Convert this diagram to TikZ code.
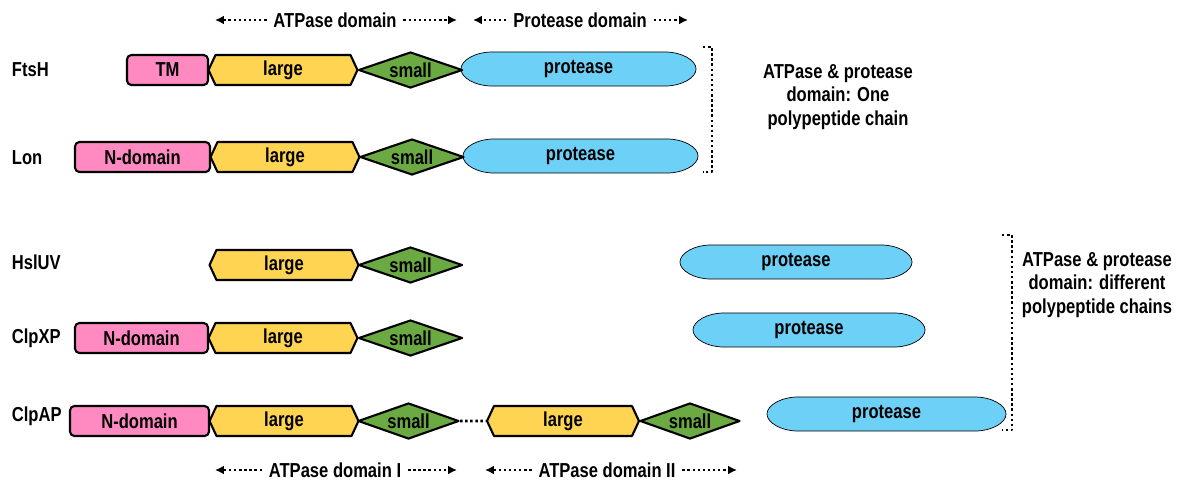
\documentclass[tikz,border=0pt]{standalone}
\usepackage{fontspec}
\setmainfont{Liberation Sans}[FakeStretch=0.82]
\usetikzlibrary{shapes.geometric,shapes.symbols,arrows.meta,backgrounds}
\definecolor{ntpink}{HTML}{FF8AC2}
\definecolor{lgyellow}{HTML}{FFD452}
\definecolor{smgreen}{HTML}{6BAA42}
\definecolor{prblue}{HTML}{6DD0F6}
\begin{document}
\begin{tikzpicture}[x=0.02cm,y=-0.02cm,line join=round,line width=1.2pt,
	font=\fontsize{11.5}{13.6}\selectfont\bfseries]
	\tikzset{
		ntbox/.style={draw,fill=ntpink,rounded corners=2.5pt,minimum height=0.6cm,inner sep=0pt},
		lgbox/.style={draw,fill=lgyellow,signal,signal to=west and east,signal pointer angle=130,
			minimum height=0.6cm,minimum width=2.98cm,inner sep=0pt},
		smbox/.style={draw,fill=smgreen,diamond,aspect=2.8,minimum width=2.08cm,minimum height=0.72cm,inner sep=0pt},
		prbox/.style={minimum height=0.64cm,inner sep=0pt},
		dimline/.style={line width=1.5pt,dash pattern=on 1.4pt off 1.5pt,-{Latex[length=5pt,width=5pt]}},
		bracket/.style={line width=1.5pt,dash pattern=on 1.4pt off 1.5pt}
	}
	\useasboundingbox (0,0) rectangle (1182,484);
	% names of the proteases
	\node[anchor=west] (ftsh) at (5,70) {FtsH};
	\node[anchor=west] (lon) at (5,158) {Lon};
	\node[anchor=west] (hsluv) at (5,262) {HslUV};
	\node[anchor=west] (clpxp) at (5,338) {ClpXP};
	\node[anchor=west] (clpap) at (5,416) {ClpAP};
	% FtsH
	\node[ntbox,minimum width=1.62cm] (tm1) at (167.5,70) {TM};
	\node[lgbox] (lg1) at (283,70) {large};
	\node[smbox] (sm1) at (410.5,70) {small};
	\node[prbox,minimum width=4.66cm] (pr1) at (578.5,69) {protease};
	% Lon
	\node[ntbox,minimum width=2.7cm] (nd2) at (142.5,157) {N-domain};
	\node[lgbox] (lg2) at (285,157) {large};
	\node[smbox] (sm2) at (412,157) {small};
	\node[prbox,minimum width=4.66cm] (pr2) at (580.5,156) {protease};
	% HslUV
	\node[lgbox] (lg3) at (284,265) {large};
	\node[smbox] (sm3) at (410.5,265) {small};
	\node[prbox,minimum width=4.6cm] (pr3) at (796,262) {protease};
	% ClpXP
	\node[ntbox,minimum width=2.66cm] (nd4) at (141.5,338) {N-domain};
	\node[lgbox] (lg4) at (283,338) {large};
	\node[smbox] (sm4) at (410.5,338) {small};
	\node[prbox,minimum width=4.6cm] (pr4) at (809,330) {protease};
	% ClpAP
	\node[ntbox,minimum width=2.78cm] (nd5) at (139.5,421) {N-domain};
	\node[lgbox] (lg5) at (284,421) {large};
	\node[smbox,minimum width=2.02cm] (sm5) at (408.5,421) {small};
	\node[lgbox,minimum width=3.04cm] (lg5b) at (563,421) {large};
	\node[smbox,minimum width=2.0cm] (sm5b) at (690,421) {small};
	\node[prbox,minimum width=4.74cm] (pr5) at (886.5,414) {protease};
	\draw[bracket] (sm5) -- (lg5b);
	% protease outlines, flat sides with elliptic ends
	\begin{scope}[on background layer]
		\foreach \n in {pr1,pr2,pr3,pr4,pr5}
			\draw[fill=prblue] ([xshift=18pt]\n.north west) -- ([xshift=-18pt]\n.north east)
				.. controls +(9.9pt,0) and +(0,5pt) .. (\n.east)
				.. controls +(0,-5pt) and +(9.9pt,0) .. ([xshift=-18pt]\n.south east)
				-- ([xshift=18pt]\n.south west)
				.. controls +(-9.9pt,0) and +(0,-5pt) .. (\n.west)
				.. controls +(0,5pt) and +(-9.9pt,0) .. ([xshift=18pt]\n.north west) -- cycle;
	\end{scope}
	% domain ranges on top
	\node (atp) at (335,20) {ATPase domain};
	\coordinate (atpl) at (215,20); \coordinate (atpr) at (457,20);
	\draw[dimline] (atp.west) -- (atpl);
	\draw[dimline] (atp.east) -- (atpr);
	\node (prd) at (580,20) {Protease domain};
	\coordinate (prdl) at (473,20); \coordinate (prdr) at (688,20);
	\draw[dimline] (prd.west) -- (prdl);
	\draw[dimline] (prd.east) -- (prdr);
	% domain ranges below
	\node (atpi) at (335,470) {ATPase domain I};
	\coordinate (atpil) at (215,470); \coordinate (atpir) at (457,470);
	\draw[dimline] (atpi.west) -- (atpil);
	\draw[dimline] (atpi.east) -- (atpir);
	\node (atpii) at (607,470) {ATPase domain II};
	\coordinate (atpiil) at (485,470); \coordinate (atpiir) at (737,470);
	\draw[dimline] (atpii.west) -- (atpiil);
	\draw[dimline] (atpii.east) -- (atpiir);
	% brackets
	\coordinate (b1a) at (703,47); \coordinate (b1b) at (712,47);
	\coordinate (b1c) at (712,172); \coordinate (b1d) at (703,172);
	\draw[bracket] (b1a) -- (b1b) -- (b1c) -- (b1d);
	\node[align=center] (one) at (838,97) {ATPase \& protease\\domain: One\\polypeptide chain};
	\coordinate (b2a) at (1002,235); \coordinate (b2b) at (1012,235);
	\coordinate (b2c) at (1012,430); \coordinate (b2d) at (1002,430);
	\draw[bracket] (b2a) -- (b2b) -- (b2c) -- (b2d);
	\node[align=center] (diff) at (1097,285) {ATPase \& protease\\domain: different\\polypeptide chains};
\end{tikzpicture}
\end{document}
